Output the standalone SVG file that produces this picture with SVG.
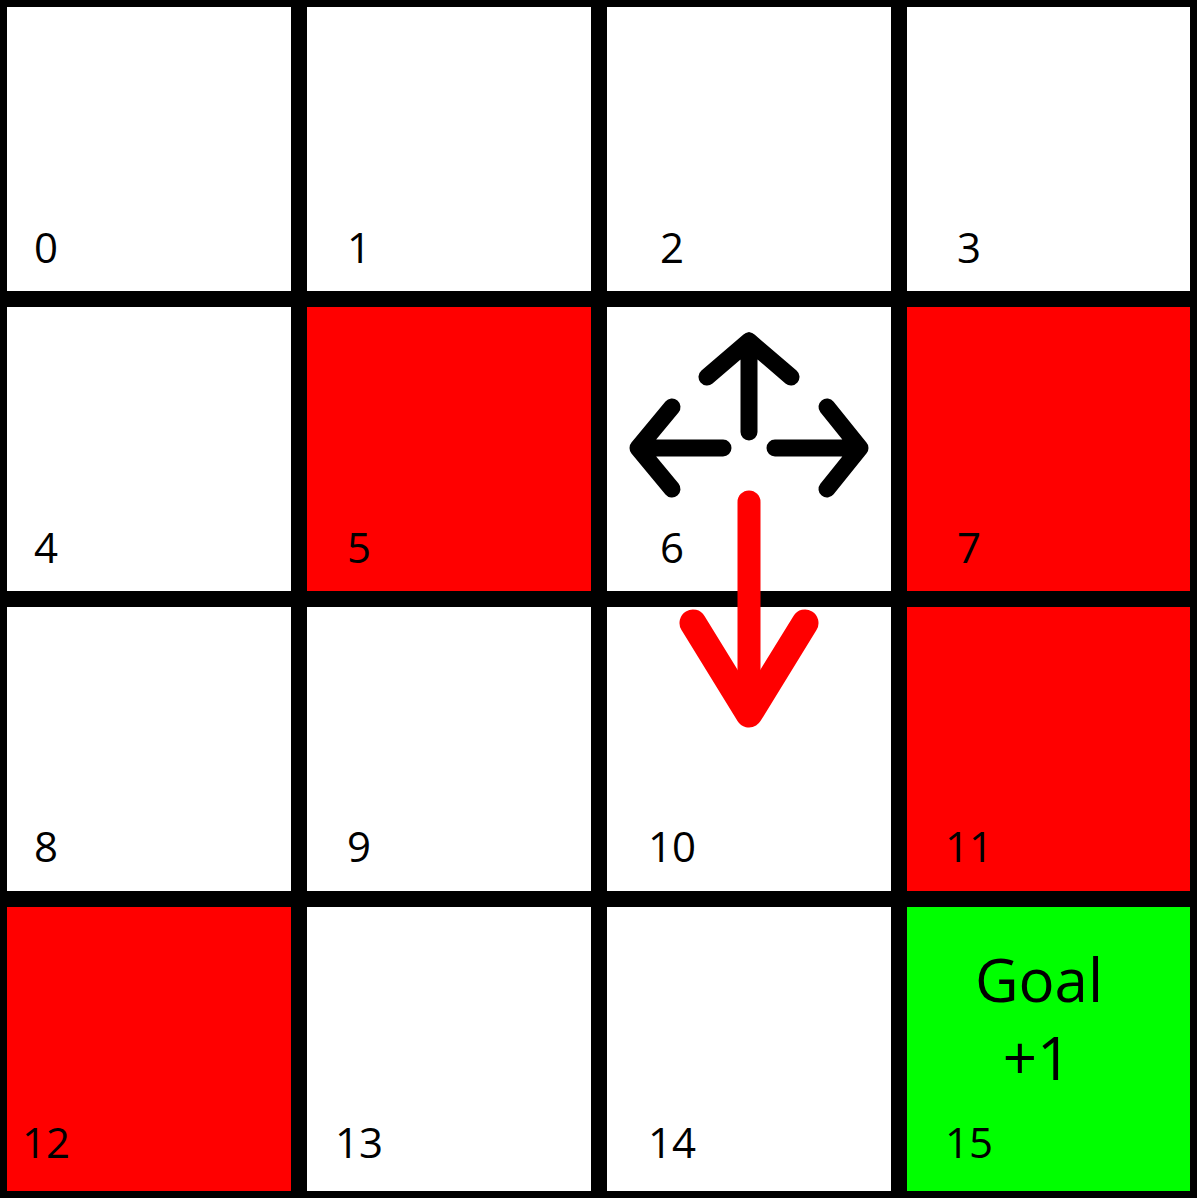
<svg xmlns="http://www.w3.org/2000/svg" width="1197" height="1198" viewBox="0 0 1197 1198">
<style>
.w{fill:#ffffff}
.r{fill:#ff0000}
.g{fill:#00ff00}
.n{font-family:"Open Sans","Noto Sans",sans-serif;font-size:42px;fill:#000;text-anchor:middle}
.big{font-family:"Open Sans","Noto Sans",sans-serif;font-size:60px;fill:#000;text-anchor:middle}
.ba{fill:none;stroke:#000;stroke-width:17;stroke-linecap:round;stroke-linejoin:round}
.ra{fill:none;stroke:#ff0000;stroke-linecap:round;stroke-linejoin:round}
</style>
<rect x="0" y="0" width="1197" height="1198" fill="#000"/>
<g id="cell0"><rect class="w" x="7" y="7" width="284" height="284"/><text class="n" x="46" y="263">0</text></g>
<g id="cell1"><rect class="w" x="307" y="7" width="284" height="284"/><text class="n" x="359" y="263">1</text></g>
<g id="cell2"><rect class="w" x="607" y="7" width="284" height="284"/><text class="n" x="672" y="263">2</text></g>
<g id="cell3"><rect class="w" x="907" y="7" width="283" height="284"/><text class="n" x="969" y="263">3</text></g>
<g id="cell4"><rect class="w" x="7" y="307" width="284" height="284"/><text class="n" x="46" y="563">4</text></g>
<g id="cell5"><rect class="r" x="307" y="307" width="284" height="284"/><text class="n" x="359" y="563">5</text></g>
<g id="cell6"><rect class="w" x="607" y="307" width="284" height="284"/><text class="n" x="672" y="563">6</text></g>
<g id="cell7"><rect class="r" x="907" y="307" width="283" height="284"/><text class="n" x="969" y="563">7</text></g>
<g id="cell8"><rect class="w" x="7" y="607" width="284" height="284"/><text class="n" x="46" y="862">8</text></g>
<g id="cell9"><rect class="w" x="307" y="607" width="284" height="284"/><text class="n" x="359" y="862">9</text></g>
<g id="cell10"><rect class="w" x="607" y="607" width="284" height="284"/><text class="n" x="672" y="862">10</text></g>
<g id="cell11"><rect class="r" x="907" y="607" width="283" height="284"/><text class="n" x="969" y="862">11</text></g>
<g id="cell12"><rect class="r" x="7" y="907" width="284" height="284"/><text class="n" x="46" y="1158">12</text></g>
<g id="cell13"><rect class="w" x="307" y="907" width="284" height="284"/><text class="n" x="359" y="1158">13</text></g>
<g id="cell14"><rect class="w" x="607" y="907" width="284" height="284"/><text class="n" x="672" y="1158">14</text></g>
<g id="cell15"><rect class="g" x="907" y="907" width="283" height="284"/><text class="big" x="1039" y="1002">Goal</text><text class="big" x="1037" y="1080">+1</text><text class="n" x="969" y="1158">15</text></g>
<g id="connectors">
<path class="ba" d="M749,432 V341 M707,377 L749,341 L791,377"/>
<path class="ba" d="M723,448 H638 M672,407 L638,448 L672,489"/>
<path class="ba" d="M775,448 H860 M827,407 L860,448 L827,489"/>
<path class="ra" stroke-width="23" d="M749,502 V712"/>
<path class="ra" stroke-width="27" d="M693,623 L749,714 L805,623"/>
</g>
</svg>
